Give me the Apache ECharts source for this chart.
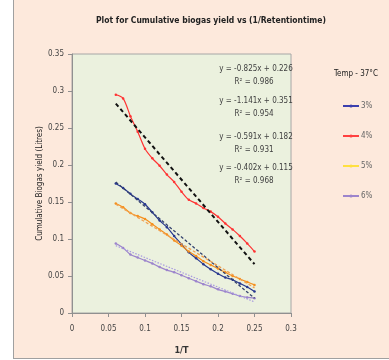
<!DOCTYPE html>
<html><head><meta charset="utf-8">
<script src="https://cdn.jsdelivr.net/npm/echarts@6/dist/echarts.min.js"></script>
<style>html,body{margin:0;padding:0;background:#fff;}#main{width:389px;height:360px;}</style>
</head><body><div id="main"></div>
<script>
const xValues = [0.06,0.07,0.08,0.09,0.10,0.11,0.12,0.13,0.14,0.15,0.16,0.17,0.18,0.19,0.20,0.21,0.22,0.23,0.24,0.25];
const y3 = [0.175,0.169,0.161,0.154,0.147,0.136,0.125,0.116,0.104,0.093,0.082,0.074,0.066,0.059,0.053,0.048,0.045,0.040,0.035,0.029];
const y4 = [0.295,0.290,0.266,0.245,0.222,0.209,0.199,0.187,0.177,0.164,0.153,0.148,0.142,0.137,0.130,0.121,0.113,0.104,0.094,0.083];
const y5 = [0.148,0.143,0.135,0.131,0.127,0.120,0.113,0.106,0.098,0.091,0.083,0.077,0.070,0.065,0.060,0.055,0.050,0.046,0.042,0.038];
const y6 = [0.094,0.088,0.079,0.075,0.071,0.067,0.062,0.058,0.055,0.051,0.047,0.043,0.039,0.036,0.032,0.029,0.026,0.023,0.021,0.020];
const trendX = [0.06, 0.25];
const trend3 = [0.177, 0.020];
const trend4 = [0.283, 0.066];
const trend5 = [0.147, 0.034];
const trend6 = [0.091, 0.015];
const seriesNames = ['3%','4%','5%','6%'];
const equations = [
  ['y = -0.825x + 0.226','R² = 0.986'],
  ['y = -1.141x + 0.351','R² = 0.954'],
  ['y = -0.591x + 0.182','R² = 0.931'],
  ['y = -0.402x + 0.115','R² = 0.968']
];
const titleText = 'Plot for Cumulative biogas yield vs (1/Retentiontime)';
const legendTitle = 'Temp - 37°C';
const xName = '1/T';
const yName = 'Cumulative Biogas yield (Litres)';

const FONT = "'Liberation Sans Narrow','DejaVu Sans Condensed','Roboto',sans-serif";
const pairs = (xs, ys) => xs.map((x, i) => [x, ys[i]]);

const chart = echarts.init(document.getElementById('main'), null, {renderer: 'canvas'});

const eqY = [69, 101, 137, 168];
const eqGraphics = [];
equations.forEach((eq, i) => {
  eqGraphics.push({type:'text', x: 256, y: eqY[i], z: 50,
    style:{text: eq[0], fill:'#404040', font: '8px ' + FONT, textAlign:'center', textVerticalAlign:'middle'}});
  eqGraphics.push({type:'text', x: 254, y: eqY[i] + 12.5, z: 50,
    style:{text: eq[1], fill:'#404040', font: '8px ' + FONT, textAlign:'center', textVerticalAlign:'middle'}});
});

const lineColors = ['#27378e', '#ff3333', '#f5901e', '#9c84cc'];
const legendColors = ['#3b3fae', '#ff4040', '#ffe040', '#9c84cc'];
const dataSets = [y3, y4, y5, y6];
const trends = [trend3, trend4, trend5, trend6];
const trendStyles = [
  {color:'#34426e', width:1.3, type:[3,2]},
  {color:'#111111', width:2, type:[4,3]},
  {color:'#f0a050', width:1.3, type:[3,2]},
  {color:'#a89ae0', width:1.2, type:[1.5,1.5]}
];

const series = [];
dataSets.forEach((ys, i) => {
  series.push({
    name: seriesNames[i], type:'line', data: pairs(xValues, ys),
    smooth: 0.3, symbol:'circle', symbolSize: 2.5, showSymbol: true,
    lineStyle:{color: lineColors[i], width: 1.2},
    itemStyle:{color: lineColors[i]}, z: 3, animation:false
  });
});
trends.forEach((t, i) => {
  series.push({
    name: 'Linear (' + seriesNames[i] + ')', type:'line', data: pairs(trendX, t),
    symbol:'none', lineStyle: trendStyles[i], z: 4, animation:false
  });
});

chart.setOption({
  backgroundColor:'#fde9dc',
  animation:false,
  textStyle:{fontFamily: FONT},
  title:{text: titleText, left: 206, top: 11, textAlign:'center',
    textStyle:{fontFamily: FONT, fontSize: 8.5, fontWeight:'bold', color:'#222'}},
  grid:{left:72, right:98, top:54, bottom:45, show:true, backgroundColor:'#ebf1de', borderColor:'#a6a6a6', borderWidth:1},
  xAxis:{type:'value', min:0, max:0.3, interval:0.05,
    name: xName, nameLocation:'middle', nameGap: 33, nameMoveOverlap: false,
    nameTextStyle:{fontFamily: FONT, fontSize: 9, fontWeight:'bold', color:'#333'},
    axisLine:{show:true, lineStyle:{color:'#909090'}},
    axisTick:{show:true, length:4, lineStyle:{color:'#909090'}},
    axisLabel:{fontFamily: FONT, fontSize: 8, color:'#444', margin: 12},
    splitLine:{show:false}},
  yAxis:{type:'value', min:0, max:0.35, interval:0.05,
    name: yName, nameLocation:'middle', nameGap: 28, nameRotate: 90, nameMoveOverlap: false,
    nameTextStyle:{fontFamily: FONT, fontSize: 8, color:'#222'},
    axisLine:{show:true, lineStyle:{color:'#909090'}},
    axisTick:{show:true, length:4, lineStyle:{color:'#909090'}},
    axisLabel:{fontFamily: FONT, fontSize: 8, color:'#444', margin: 8},
    splitLine:{show:false}},
  legend:{orient:'vertical', left: 337, top: 97, itemWidth: 16, itemHeight: 4, itemGap: 22,
    data: seriesNames.map((n, i) => ({name: n, itemStyle:{color: legendColors[i]}, lineStyle:{color: legendColors[i]}})),
    textStyle:{fontFamily: FONT, fontSize: 8, color:'#666', padding:[0,0,0,-3]}},
  graphic: [
    {type:'rect', shape:{x:0, y:0, width:13, height:360}, style:{fill:'#ffffff'}, z: 0, silent:true},
    {type:'rect', shape:{x:0, y:359, width:389, height:1}, style:{fill:'#ffffff'}, z: 0, silent:true},
    {type:'line', shape:{x1:13.5, y1:0, x2:13.5, y2:359}, style:{stroke:'#a0a0a0', lineWidth:1}, z: 1, silent:true},
    {type:'line', shape:{x1:13, y1:358.5, x2:389, y2:358.5}, style:{stroke:'#a0a0a0', lineWidth:1}, z: 1, silent:true},
    {type:'text', x: 356, y: 74, z: 50,
      style:{text: legendTitle, fill:'#222', font: '8px ' + FONT, textAlign:'center', textVerticalAlign:'middle'}}
  ].concat(eqGraphics),
  series: series
});
</script></body></html>
